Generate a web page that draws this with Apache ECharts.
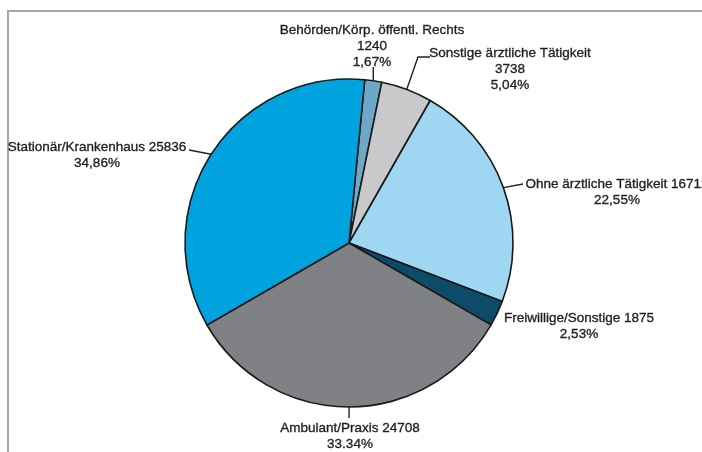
<!DOCTYPE html>
<html>
<head>
<meta charset="utf-8">
<script src="https://cdn.jsdelivr.net/npm/echarts@6/dist/echarts.min.js"></script>
<style>
  html, body { margin: 0; padding: 0; background: #ffffff; }
  #chart { width: 702px; height: 452px; }
</style>
</head>
<body>
<div id="chart"></div>
<script>
// Doctors by field of activity
const categories = [
  'Behörden/Körp. öffentl. Rechts',
  'Sonstige ärztliche Tätigkeit',
  'Ohne ärztliche Tätigkeit',
  'Freiwillige/Sonstige',
  'Ambulant/Praxis',
  'Stationär/Krankenhaus'
];
const counts = [1240, 3738, 16712, 1875, 24708, 25836];
const shares = ['1,67%', '5,04%', '22,55%', '2,53%', '33.34%', '34,86%'];
const colors = ['#6ea8c9', '#c9c9cb', '#9fd6f1', '#0c4c69', '#808184', '#00a3dd'];

// label placement: top-centre of each text block and the bend of its leader line
const labelSpots = [
  { x: 372, y: 22, line: (e) => [e, [e[0], 67]] },
  { x: 510, y: 45, line: (e) => [e, [418, 57], [430, 57]] },
  { x: 617, y: 176, line: (e) => [e, [523, 184]] },
  { x: 579, y: 310, line: null },
  { x: 350, y: 420, line: (e) => [e, [e[0], 418]] },
  { x: 97, y: 139, line: (e) => [e, [189, 150]] }
];
const stacked = [true, true, false, false, false, false];

const chart = echarts.init(document.getElementById('chart'), null, { renderer: 'canvas' });

chart.setOption({
  backgroundColor: '#ffffff',
  animation: false,
  graphic: [{
    type: 'rect',
    shape: { x: 8, y: 11, width: 720, height: 470 },
    style: { fill: 'none', stroke: '#a6a6a6', lineWidth: 2 },
    silent: true
  }],
  series: [{
    type: 'pie',
    center: [349, 243],
    radius: 164,
    startAngle: 84.5,
    clockwise: true,
    avoidLabelOverlap: false,
    itemStyle: { borderColor: '#1a1a1a', borderWidth: 1.6 },
    label: {
      show: true,
      position: 'outside',
      fontFamily: 'Liberation Sans, Arial, sans-serif',
      fontSize: 13.5,
      lineHeight: 16,
      color: '#1e1e1e',
      textBorderColor: '#2a2a2a',
      textBorderWidth: 0.35,
      formatter: (p) => stacked[p.dataIndex]
        ? p.name + '\n' + p.value + '\n' + shares[p.dataIndex]
        : p.name + ' ' + p.value + '\n' + shares[p.dataIndex]
    },
    labelLine: {
      show: true,
      lineStyle: { color: '#222222', width: 1.4 }
    },
    labelLayout: (params) => {
      const spot = labelSpots[params.dataIndex];
      const edge = params.labelLinePoints ? params.labelLinePoints[0] : null;
      const out = {
        x: spot.x,
        y: spot.y,
        align: 'center',
        verticalAlign: 'top'
      };
      if (spot.line && edge) out.labelLinePoints = spot.line([edge[0], edge[1]]);
      return out;
    },
    data: categories.map((name, i) => ({
      name: name,
      value: counts[i],
      itemStyle: { color: colors[i] },
      labelLine: { show: labelSpots[i].line !== null }
    }))
  }]
});
</script>
</body>
</html>
